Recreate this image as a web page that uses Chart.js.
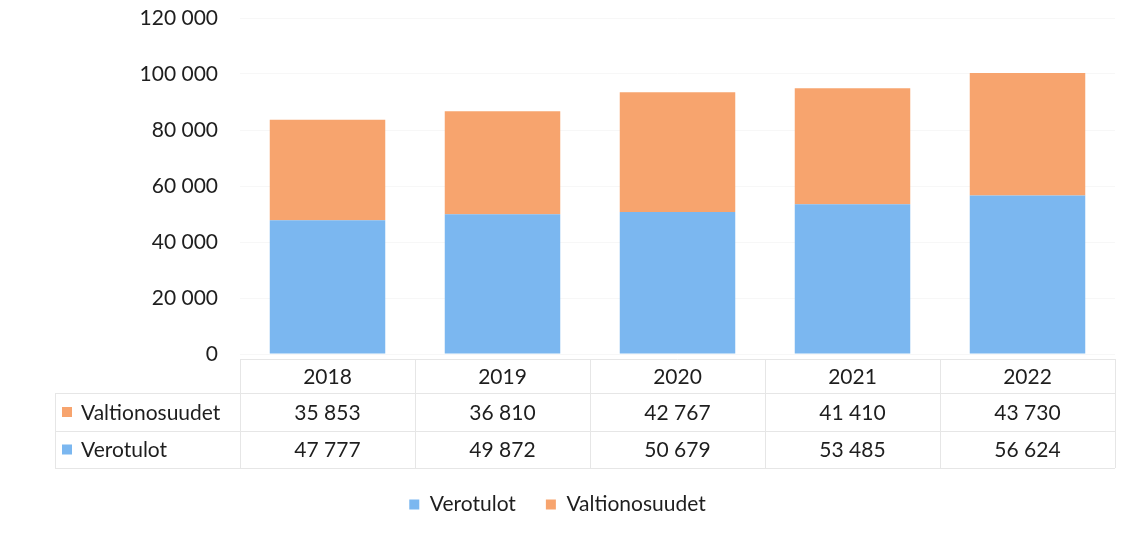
<!DOCTYPE html>
<html>
<head>
<meta charset="utf-8">
<script src="https://cdn.jsdelivr.net/npm/chart.js@4/dist/chart.umd.min.js"></script>
<style>
  html, body { margin: 0; padding: 0; background: #fff; }
  #wrap { width: 1138px; height: 539px; }
</style>
</head>
<body>
<div id="wrap"><canvas id="chart"></canvas></div>
<script>
// Data
const years = ['2018', '2019', '2020', '2021', '2022']
const verotulot = [47777, 49872, 50679, 53485, 56624]
const valtionosuudet = [35853, 36810, 42767, 41410, 43730]
const yTicks = [0, 20000, 40000, 60000, 80000, 100000, 120000]

const blue = '#7bb7f0'
const orange = '#f7a46e'
const textColor = '#1e1e1e'
const fontFamily = 'Lato, "Open Sans", sans-serif'
const fontSize = 21

const fmt = v => String(v).replace(/\B(?=(\d{3})+(?!\d))/g, ' ')

// draws the data table under the bars
const dataTable = {
  id: 'dataTable',
  afterDraw(chart) {
    const { ctx, chartArea, scales } = chart
    const x = scales.x
    const left = chartArea.left, right = chartArea.right
    const colW = (right - left) / years.length
    const top = chartArea.bottom + 5
    const r1 = chartArea.bottom + 39
    const r2 = chartArea.bottom + 77
    const bottom = chartArea.bottom + 114
    const labelLeft = 55

    ctx.save()
    ctx.strokeStyle = '#e6e6e6'
    ctx.lineWidth = 1
    ctx.beginPath()
    // horizontal lines
    ctx.moveTo(left, top + 0.5); ctx.lineTo(right, top + 0.5)
    ctx.moveTo(labelLeft, r1 + 0.5); ctx.lineTo(right, r1 + 0.5)
    ctx.moveTo(labelLeft, r2 + 0.5); ctx.lineTo(right, r2 + 0.5)
    ctx.moveTo(labelLeft, bottom + 0.5); ctx.lineTo(right, bottom + 0.5)
    // vertical lines
    for (let i = 0; i <= years.length; i++) {
      const xx = Math.round(left + i * colW) + 0.5
      ctx.moveTo(xx, top); ctx.lineTo(xx, bottom)
    }
    ctx.moveTo(labelLeft + 0.5, r1); ctx.lineTo(labelLeft + 0.5, bottom)
    ctx.stroke()

    ctx.font = fontSize + 'px ' + fontFamily
    ctx.fillStyle = textColor
    ctx.textAlign = 'center'
    ctx.textBaseline = 'middle'
    const rows = [
      { label: 'Valtionosuudet', values: valtionosuudet, color: orange },
      { label: 'Verotulot', values: verotulot, color: blue }
    ]
    years.forEach((y, i) => {
      const cx = x.getPixelForValue(i)
      ctx.fillText(y, cx, (top + r1) / 2 + 1)
      ctx.fillText(fmt(rows[0].values[i]), cx, (r1 + r2) / 2 + 1)
      ctx.fillText(fmt(rows[1].values[i]), cx, (r2 + bottom) / 2 + 1)
    })
    ctx.textAlign = 'left'
    const bands = [(r1 + r2) / 2, (r2 + bottom) / 2]
    rows.forEach((row, j) => {
      ctx.fillStyle = row.color
      ctx.fillRect(labelLeft + 7, bands[j] - 5, 10, 10)
      ctx.fillStyle = textColor
      ctx.fillText(row.label, labelLeft + 26, bands[j] + 1)
    })
    ctx.restore()
  }
}

new Chart(document.getElementById('chart'), {
  type: 'bar',
  data: {
    labels: years,
    datasets: [
      { label: 'Verotulot', data: verotulot, backgroundColor: blue },
      { label: 'Valtionosuudet', data: valtionosuudet, backgroundColor: orange }
    ]
  },
  options: {
    responsive: true,
    maintainAspectRatio: false,
    animation: false,
    datasets: { bar: { categoryPercentage: 0.66, barPercentage: 1 } },
    layout: { padding: { top: 18, right: 23, bottom: 14, left: 0 } },
    plugins: {
      tooltip: { enabled: false },
      legend: {
        position: 'bottom',
        labels: {
          boxWidth: 10, boxHeight: 10, padding: 30,
          color: textColor,
          font: { family: fontFamily, size: fontSize }
        }
      }
    },
    scales: {
      x: {
        stacked: true,
        grid: { display: false },
        border: { display: false },
        ticks: { display: false },
        afterFit(scale) { scale.height = 110 }
      },
      y: {
        stacked: true,
        min: 0,
        max: 120000,
        afterBuildTicks(scale) { scale.ticks = yTicks.map(v => ({ value: v })) },
        grid: { color: '#f7f7f7', drawTicks: false },
        border: { display: false },
        ticks: {
          padding: 22,
          color: textColor,
          font: { family: fontFamily, size: fontSize },
          callback: v => fmt(v)
        },
        afterFit(scale) {
          scale.width = 240
          scale.paddingTop = 0
          scale.paddingBottom = 0
        }
      }
    }
  },
  plugins: [dataTable]
})
</script>
</body>
</html>
